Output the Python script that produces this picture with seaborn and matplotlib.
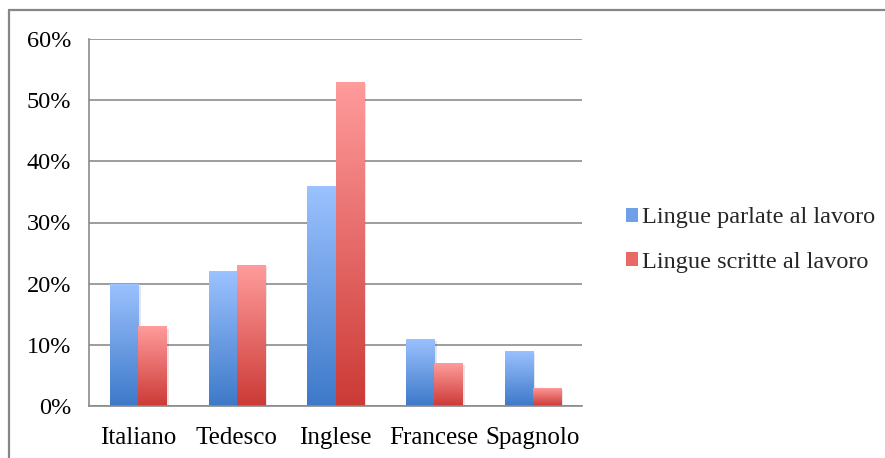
import numpy as np
import pandas as pd
import matplotlib
matplotlib.use("Agg")
import matplotlib.pyplot as plt
from matplotlib.colors import LinearSegmentedColormap
from matplotlib.patches import Patch, Rectangle
from matplotlib.lines import Line2D
import seaborn as sns

categories = ["Italiano", "Tedesco", "Inglese", "Francese", "Spagnolo"]
series_names = ["Lingue parlate al lavoro", "Lingue scritte al lavoro"]
parlate = [20, 22, 36, 11, 9]
scritte = [13, 23, 53, 7, 3]
y_ticks = [0, 10, 20, 30, 40, 50, 60]
y_tick_labels = ["0%", "10%", "20%", "30%", "40%", "50%", "60%"]

df = pd.DataFrame({
    "lingua": categories * 2,
    "serie": [series_names[0]] * len(categories) + [series_names[1]] * len(categories),
    "valore": parlate + scritte,
})

sns.set_theme(style="white")
plt.rcParams["font.family"] = ["Liberation Serif", "DejaVu Serif"]

fig = plt.figure(figsize=(8.85, 4.58), dpi=100)
ax = fig.add_axes([89 / 885, 52 / 458, 493 / 885, 367 / 458])

# (top colour, bottom colour) for each series' vertical gradient
grad_colors = {
    series_names[0]: ("#9cc2ff", "#3d79c9"),
    series_names[1]: ("#ff9c9c", "#cc3a36"),
}

sns.barplot(data=df, x="lingua", y="valore", hue="serie", hue_order=series_names,
            order=categories, width=0.57, palette=["#6f9fe6", "#e86a66"],
            legend=False, ax=ax, saturation=1)

ax.set_ylim(0, 60)
ax.set_xlim(-0.5, len(categories) - 0.5)

bars = [p for p in ax.patches if isinstance(p, Rectangle)]
grad = np.linspace(1, 0, 256).reshape(-1, 1)
for i, bar in enumerate(bars):
    serie = series_names[i // len(categories)]
    top, bottom = grad_colors[serie]
    cmap = LinearSegmentedColormap.from_list("g", [bottom, top])
    x0, w, h = bar.get_x(), bar.get_width(), bar.get_height()
    # soft drop shadow
    ax.add_patch(Rectangle((x0 + 0.025, 0), w, h - 0.35, facecolor="#000000",
                           alpha=0.10, edgecolor="none", zorder=1.5))
    bar.set_facecolor("none")
    bar.set_edgecolor("none")
    bar.set_zorder(3)
    im = ax.imshow(grad, cmap=cmap, extent=(x0, x0 + w, 0, h), aspect="auto",
                   zorder=2, interpolation="bicubic", origin="upper")
    im.set_clip_path(bar)

ax.set_ylim(0, 60)
ax.set_xlim(-0.5, len(categories) - 0.5)

ax.set_yticks(y_ticks)
ax.set_yticklabels(y_tick_labels)
ax.set_xticks(range(len(categories)))
ax.set_xticklabels(categories)
ax.set_xlabel("")
ax.set_ylabel("")

# category boundary ticks on the x axis
ax.set_xticks(np.arange(-0.5, len(categories), 1.0), minor=True)
ax.tick_params(axis="x", which="major", length=0, pad=15, labelsize=18, colors="black")
ax.tick_params(axis="x", which="minor", length=7, width=1.2, color="#8a8a8a", direction="out")
ax.tick_params(axis="y", which="major", length=5, width=1.2, color="#8a8a8a",
               direction="out", pad=8, labelsize=17.5, labelcolor="black")

ax.yaxis.grid(True, color="#8c8c8c", linewidth=1.2)
ax.xaxis.grid(False)
ax.set_axisbelow(True)
for side in ["top", "right"]:
    ax.spines[side].set_visible(False)
for side in ["left", "bottom"]:
    ax.spines[side].set_color("#8a8a8a")
    ax.spines[side].set_linewidth(1.2)
    ax.spines[side].set_zorder(4)

handles = [Patch(facecolor="#6f9fe6", edgecolor="none"),
           Patch(facecolor="#e86a66", edgecolor="none")]
fig.legend(handles, series_names, loc="center left", bbox_to_anchor=(614 / 885, 1 - 240 / 458),
           frameon=False, fontsize=17.5, handlelength=0.5, handleheight=0.5,
           handletextpad=0.15, labelspacing=0.95, borderpad=0)

# chart-area frame
fig.add_artist(Line2D([8.5 / 885, 8.5 / 885], [0, 1 - 10 / 458], transform=fig.transFigure,
                      color="#868686", linewidth=1.6))
fig.add_artist(Line2D([8.5 / 885, 1], [1 - 10 / 458, 1 - 10 / 458], transform=fig.transFigure,
                      color="#868686", linewidth=1.6))

fig.savefig("out.png", dpi=100)
